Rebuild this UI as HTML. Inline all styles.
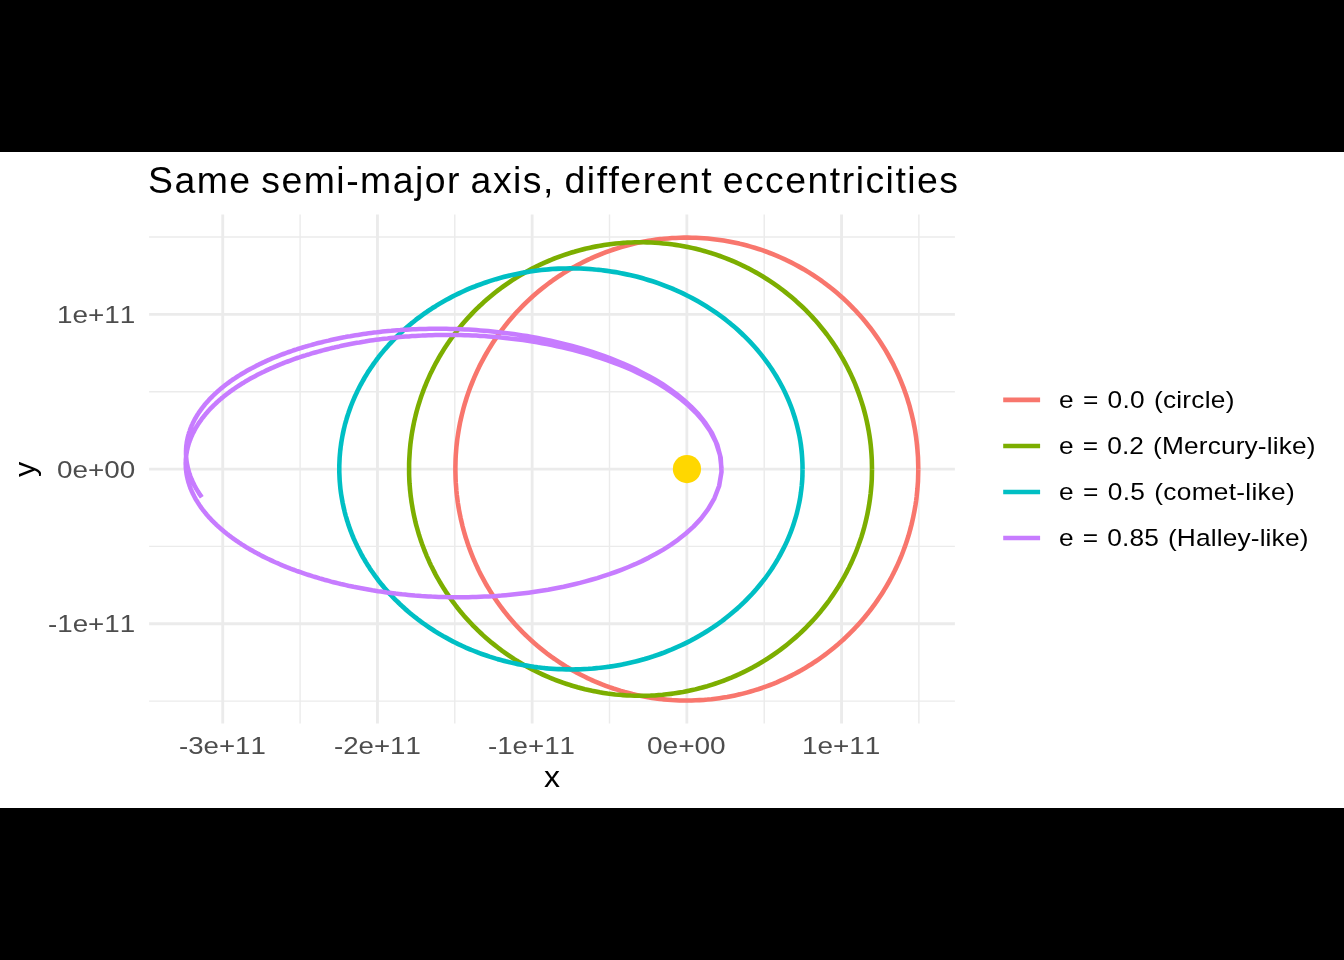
<!DOCTYPE html>
<html lang="en"><head><meta charset="utf-8"><title>Same semi-major axis, different eccentricities</title>
<style>
html,body{margin:0;padding:0;background:#000;}
body{width:1344px;height:960px;position:relative;overflow:hidden;font-family:"Liberation Sans",sans-serif;}
.t{will-change:transform;position:absolute;white-space:nowrap;line-height:1;font-family:"Liberation Sans",sans-serif;font-kerning:none;}
</style></head><body>
<svg width="1344" height="960" viewBox="0 0 1344 960" style="position:absolute;left:0;top:0">
<rect x="0" y="152" width="1344" height="656" fill="#ffffff"/>
<g stroke="#EBEBEB" fill="none"><line x1="300.10" x2="300.10" y1="214.40" y2="723.60" stroke-width="1.42"/><line x1="454.80" x2="454.80" y1="214.40" y2="723.60" stroke-width="1.42"/><line x1="609.50" x2="609.50" y1="214.40" y2="723.60" stroke-width="1.42"/><line x1="764.20" x2="764.20" y1="214.40" y2="723.60" stroke-width="1.42"/><line x1="918.90" x2="918.90" y1="214.40" y2="723.60" stroke-width="1.42"/><line x1="149.10" x2="954.90" y1="701.10" y2="701.10" stroke-width="1.42"/><line x1="149.10" x2="954.90" y1="546.40" y2="546.40" stroke-width="1.42"/><line x1="149.10" x2="954.90" y1="391.70" y2="391.70" stroke-width="1.42"/><line x1="149.10" x2="954.90" y1="237.00" y2="237.00" stroke-width="1.42"/><line x1="222.75" x2="222.75" y1="214.40" y2="723.60" stroke-width="2.84"/><line x1="377.45" x2="377.45" y1="214.40" y2="723.60" stroke-width="2.84"/><line x1="532.15" x2="532.15" y1="214.40" y2="723.60" stroke-width="2.84"/><line x1="686.85" x2="686.85" y1="214.40" y2="723.60" stroke-width="2.84"/><line x1="841.55" x2="841.55" y1="214.40" y2="723.60" stroke-width="2.84"/><line x1="149.10" x2="954.90" y1="623.75" y2="623.75" stroke-width="2.84"/><line x1="149.10" x2="954.90" y1="469.05" y2="469.05" stroke-width="2.84"/><line x1="149.10" x2="954.90" y1="314.35" y2="314.35" stroke-width="2.84"/></g>
<g fill="none" stroke-width="4.55" stroke-linejoin="round" stroke-linecap="butt">
<path stroke="#F8766D" d="M918.3,469.1 918.2,465.1 918.1,461.1 918.0,457.1 917.7,453.1 917.4,449.2 917.0,445.2 916.6,441.2 916.1,437.3 915.5,433.3 914.9,429.4 914.1,425.5 913.4,421.6 912.5,417.7 911.6,413.8 910.6,410.0 909.6,406.1 908.4,402.3 907.3,398.5 906.0,394.7 904.7,390.9 903.3,387.2 901.9,383.5 900.4,379.8 898.8,376.1 897.2,372.5 895.5,368.9 893.7,365.3 891.9,361.8 890.0,358.3 888.1,354.8 886.1,351.3 884.0,347.9 881.9,344.5 879.8,341.2 877.5,337.9 875.2,334.6 872.9,331.4 870.5,328.2 868.1,325.1 865.6,322.0 863.0,318.9 860.4,315.9 857.7,313.0 855.0,310.0 852.2,307.2 849.4,304.3 846.6,301.6 843.7,298.8 840.7,296.2 837.7,293.5 834.7,291.0 831.6,288.5 828.5,286.0 825.3,283.6 822.1,281.2 818.8,278.9 815.5,276.7 812.2,274.5 808.8,272.4 805.4,270.3 802.0,268.3 798.5,266.3 795.0,264.4 791.5,262.6 787.9,260.8 784.3,259.1 780.7,257.5 777.0,255.9 773.3,254.4 769.6,252.9 765.9,251.5 762.1,250.2 758.4,248.9 754.6,247.7 750.7,246.6 746.9,245.5 743.1,244.5 739.2,243.6 735.3,242.7 731.4,241.9 727.5,241.2 723.5,240.5 719.6,239.9 715.7,239.4 711.7,238.9 707.7,238.5 703.8,238.2 699.8,238.0 695.8,237.8 691.8,237.7 687.8,237.6 683.9,237.6 679.9,237.7 675.9,237.9 671.9,238.1 667.9,238.4 664.0,238.7 660.0,239.2 656.1,239.7 652.1,240.2 648.2,240.9 644.3,241.5 640.4,242.3 636.5,243.1 632.6,244.0 628.7,245.0 624.9,246.0 621.0,247.1 617.2,248.3 613.4,249.5 609.7,250.8 605.9,252.2 602.2,253.6 598.5,255.1 594.8,256.7 591.2,258.3 587.6,260.0 584.0,261.7 580.5,263.5 576.9,265.4 573.4,267.3 570.0,269.3 566.6,271.3 563.2,273.4 559.8,275.6 556.5,277.8 553.2,280.0 550.0,282.4 546.8,284.8 543.7,287.2 540.6,289.7 537.5,292.2 534.5,294.8 531.5,297.5 528.6,300.2 525.7,302.9 522.9,305.7 520.1,308.6 517.3,311.5 514.6,314.4 512.0,317.4 509.4,320.4 506.9,323.5 504.4,326.6 502.0,329.8 499.6,333.0 497.3,336.2 495.0,339.5 492.8,342.8 490.7,346.2 488.6,349.6 486.6,353.0 484.6,356.5 482.7,360.0 480.9,363.5 479.1,367.0 477.4,370.6 475.7,374.3 474.1,377.9 472.6,381.6 471.1,385.3 469.7,389.0 468.3,392.8 467.0,396.5 465.8,400.3 464.7,404.1 463.6,408.0 462.6,411.8 461.6,415.7 460.7,419.6 459.9,423.5 459.2,427.4 458.5,431.3 457.9,435.2 457.3,439.2 456.8,443.1 456.4,447.1 456.1,451.1 455.8,455.0 455.6,459.0 455.5,463.0 455.4,467.0 455.4,471.0 455.5,475.0 455.6,478.9 455.8,482.9 456.1,486.9 456.4,490.9 456.8,494.8 457.3,498.8 457.8,502.7 458.5,506.7 459.1,510.6 459.9,514.5 460.7,518.4 461.6,522.3 462.5,526.1 463.6,530.0 464.6,533.8 465.8,537.6 467.0,541.4 468.3,545.2 469.6,549.0 471.0,552.7 472.5,556.4 474.0,560.1 475.6,563.7 477.3,567.3 479.0,570.9 480.8,574.5 482.6,578.0 484.5,581.5 486.5,585.0 488.5,588.4 490.6,591.8 492.8,595.2 495.0,598.5 497.2,601.8 499.5,605.0 501.9,608.2 504.3,611.4 506.8,614.5 509.3,617.6 511.9,620.6 514.5,623.6 517.2,626.5 520.0,629.4 522.8,632.3 525.6,635.1 528.5,637.8 531.4,640.5 534.4,643.2 537.4,645.8 540.5,648.3 543.6,650.8 546.7,653.3 549.9,655.6 553.1,658.0 556.4,660.2 559.7,662.5 563.1,664.6 566.4,666.7 569.9,668.8 573.3,670.8 576.8,672.7 580.3,674.5 583.9,676.3 587.5,678.1 591.1,679.8 594.7,681.4 598.4,682.9 602.1,684.4 605.8,685.8 609.5,687.2 613.3,688.5 617.1,689.7 620.9,690.9 624.7,692.0 628.6,693.0 632.4,694.0 636.3,694.9 640.2,695.8 644.1,696.5 648.0,697.2 652.0,697.9 655.9,698.4 659.9,698.9 663.8,699.4 667.8,699.7 671.8,700.0 675.8,700.2 679.7,700.4 683.7,700.5 687.7,700.5 691.7,700.4 695.7,700.3 699.6,700.1 703.6,699.9 707.6,699.6 711.6,699.2 715.5,698.7 719.5,698.2 723.4,697.6 727.3,696.9 731.2,696.2 735.2,695.4 739.0,694.5 742.9,693.6 746.8,692.6 750.6,691.5 754.4,690.4 758.2,689.2 762.0,687.9 765.8,686.6 769.5,685.2 773.2,683.8 776.9,682.3 780.5,680.7 784.2,679.0 787.8,677.3 791.3,675.6 794.9,673.7 798.4,671.8 801.9,669.9 805.3,667.9 808.7,665.8 812.1,663.7 815.4,661.5 818.7,659.3 822.0,657.0 825.2,654.6 828.3,652.2 831.5,649.7 834.6,647.2 837.6,644.6 840.6,642.0 843.6,639.4 846.5,636.6 849.3,633.9 852.1,631.0 854.9,628.2 857.6,625.3 860.3,622.3 862.9,619.3 865.5,616.2 868.0,613.1 870.4,610.0 872.8,606.8 875.2,603.6 877.4,600.3 879.7,597.0 881.9,593.7 884.0,590.3 886.0,586.9 888.0,583.5 890.0,580.0 891.8,576.5 893.7,572.9 895.4,569.3 897.1,565.7 898.8,562.1 900.3,558.4 901.8,554.8 903.3,551.0 904.7,547.3 906.0,543.5 907.2,539.8 908.4,536.0 909.5,532.1 910.6,528.3 911.6,524.4 912.5,520.6 913.3,516.7 914.1,512.8 914.8,508.8 915.5,504.9 916.1,501.0 916.6,497.0 917.0,493.1 917.4,489.1 917.7,485.1 918.0,481.1 918.1,477.2 918.2,473.2 918.3,469.2 918.2,465.2 918.1,461.2 918.0,457.2 917.7,453.3 917.4,449.3 917.1,445.3 916.6,441.4 916.1,437.4 915.5,433.5 914.9,429.5 914.2,425.6 913.4,421.7 912.5,417.8 911.6,414.0 910.6,410.1 909.6,406.2 908.5,402.4 907.3,398.6 906.1,394.8 904.7,391.1 903.4,387.3 901.9,383.6 900.4,379.9 898.9,376.3 897.2,372.6 895.5,369.0 893.8,365.4 892.0,361.9 890.1,358.4 888.2,354.9 886.2,351.4 884.1,348.0 882.0,344.7 879.8,341.3 877.6,338.0 875.3,334.7 873.0,331.5 870.6,328.3 868.1,325.2 865.6,322.1 863.1,319.0 860.5,316.0 857.8,313.1 855.1,310.1 852.3,307.3 849.5,304.4 846.7,301.7 843.8,298.9 840.8,296.3 837.8,293.6 834.8,291.1 831.7,288.5 828.6,286.1 825.4,283.7 822.2,281.3 818.9,279.0 815.6,276.8 812.3,274.6 809.0,272.4 805.6,270.4 802.1,268.4 798.6,266.4 795.1,264.5 791.6,262.7 788.0,260.9 784.4,259.2 780.8,257.5 777.2,256.0 773.5,254.4 769.8,253.0 766.0,251.6 762.3,250.2 758.5,249.0 754.7,247.8 750.9,246.6 747.0,245.6 743.2,244.6 739.3,243.6 735.4,242.8 731.5,242.0 727.6,241.2 723.7,240.6 719.7,240.0 715.8,239.4 711.8,239.0 707.9,238.6 703.9,238.2 699.9,238.0 696.0,237.8 692.0,237.7 688.0,237.6 684.0,237.6 680.0,237.7 676.0,237.9 672.1,238.1 668.1,238.4 664.1,238.7 660.2,239.1 656.2,239.6 652.3,240.2 648.3,240.8 644.4,241.5 640.5,242.3 636.6,243.1 632.7,244.0 628.9,245.0 625.0,246.0 621.2,247.1 617.4,248.3 613.6,249.5 609.8,250.8 606.1,252.2 602.3,253.6 598.7,255.1 595.0,256.6 591.3,258.2 587.7,259.9 584.1,261.6 580.6,263.4 577.1,265.3 573.6,267.2 570.1,269.2 566.7,271.2 563.3,273.3 560.0,275.5 556.6,277.7 553.4,280.0 550.1,282.3 546.9,284.7 543.8,287.1 540.7,289.6 537.6,292.1 534.6,294.7 531.6,297.4 528.7,300.1 525.8,302.8 523.0,305.6 520.2,308.5 517.4,311.3 514.7,314.3 512.1,317.3 509.5,320.3 507.0,323.4 504.5,326.5 502.1,329.7 499.7,332.9 497.4,336.1 495.1,339.4 492.9,342.7 490.8,346.0 488.7,349.4 486.7,352.9 484.7,356.3 482.8,359.8 480.9,363.4 479.1,366.9 477.4,370.5 475.7,374.1 474.1,377.8 472.6,381.4 471.1,385.1 469.7,388.9 468.4,392.6 467.1,396.4 465.9,400.2 464.7,404.0 463.6,407.8 462.6,411.7 461.7,415.5 460.8,419.4 459.9,423.3 459.2,427.2 458.5,431.2 457.9,435.1 457.3,439.0 456.9,443.0 456.4,447.0 456.1,450.9 455.8,454.9 455.6,458.9 455.5,462.9 455.4,466.8 455.4,470.8 455.5,474.8 455.6,478.8 455.8,482.8 456.1,486.7 456.4,490.7 456.8,494.7 457.3,498.6 457.8,502.6 458.4,506.5 459.1,510.4 459.9,514.4 460.7,518.3 461.6,522.1 462.5,526.0 463.5,529.9 464.6,533.7 465.7,537.5 467.0,541.3 468.2,545.1 469.6,548.8 471.0,552.6 472.4,556.3 474.0,559.9 475.6,563.6 477.2,567.2 478.9,570.8 480.7,574.4 482.6,577.9 484.5,581.4 486.4,584.9 488.5,588.3 490.5,591.7 492.7,595.0 494.9,598.4 497.1,601.7 499.4,604.9 501.8,608.1 504.2,611.3 506.7,614.4 509.2,617.5 511.8,620.5 514.4,623.5 517.1,626.4 519.9,629.3 522.6,632.2 525.5,635.0 528.4,637.7 531.3,640.4 534.3,643.1 537.3,645.7 540.3,648.2 543.4,650.7 546.6,653.2 549.8,655.6 553.0,657.9 556.3,660.2 559.6,662.4 562.9,664.5 566.3,666.6 569.7,668.7 573.2,670.7 576.7,672.6 580.2,674.5 583.8,676.3 587.3,678.0 590.9,679.7 594.6,681.3 598.3,682.9 601.9,684.4 605.7,685.8 609.4,687.2 613.2,688.5 617.0,689.7 620.8,690.9 624.6,692.0 628.4,693.0 632.3,694.0 636.2,694.9 640.1,695.7 644.0,696.5 647.9,697.2 651.8,697.8 655.8,698.4 659.7,698.9 663.7,699.3 667.7,699.7 671.6,700.0 675.6,700.2 679.6,700.4 683.6,700.5 687.6,700.5 691.5,700.5 695.5,700.3 699.5,700.2 703.5,699.9 707.5,699.6 711.4,699.2 715.4,698.7 719.3,698.2 723.3,697.6 727.2,697.0 731.1,696.2 735.0,695.4 738.9,694.6 742.8,693.6 746.6,692.6 750.5,691.6 754.3,690.4 758.1,689.3 761.9,688.0 765.6,686.7 769.4,685.3 773.1,683.8 776.8,682.3 780.4,680.7 784.0,679.1 787.6,677.4 791.2,675.6 794.8,673.8 798.3,671.9 801.7,670.0 805.2,668.0 808.6,665.9 812.0,663.8 815.3,661.6 818.6,659.3 821.8,657.0 825.1,654.7 828.2,652.3 831.4,649.8 834.5,647.3 837.5,644.7 840.5,642.1 843.5,639.5 846.4,636.7 849.2,634.0 852.0,631.1 854.8,628.3 857.5,625.4 860.2,622.4 862.8,619.4 865.4,616.3 867.9,613.2 870.3,610.1 872.7,606.9 875.1,603.7 877.4,600.4 879.6,597.1 881.8,593.8 883.9,590.4 886.0,587.0 888.0,583.6 889.9,580.1 891.8,576.6 893.6,573.0 895.4,569.5 897.1,565.9 898.7,562.2 900.3,558.6 901.8,554.9 903.2,551.2 904.6,547.4 905.9,543.7 907.2,539.9 908.4,536.1 909.5,532.3 910.5,528.4 911.5,524.6 912.4,520.7 913.3,516.8 914.1,512.9 914.8,509.0 915.5,505.0 916.1,501.1 916.6,497.2 917.0,493.2 917.4,489.2 917.7,485.3 918.0,481.3 918.1,477.3 918.2,473.3 918.3,469.3"/>
<path stroke="#7CAE00" d="M872.0,469.1 871.9,464.2 871.8,459.3 871.5,454.4 871.1,449.6 870.7,444.7 870.1,439.9 869.4,435.1 868.6,430.3 867.7,425.5 866.7,420.7 865.6,416.0 864.4,411.3 863.1,406.6 861.6,402.0 860.1,397.4 858.5,392.9 856.8,388.4 855.1,383.9 853.2,379.5 851.2,375.1 849.1,370.8 847.0,366.5 844.8,362.3 842.4,358.2 840.0,354.1 837.6,350.0 835.0,346.1 832.4,342.1 829.7,338.3 826.9,334.5 824.0,330.8 821.1,327.2 818.1,323.6 815.1,320.1 811.9,316.7 808.8,313.3 805.5,310.0 802.3,306.8 798.9,303.7 795.5,300.6 792.1,297.6 788.6,294.7 785.1,291.9 781.5,289.2 777.9,286.5 774.2,283.9 770.5,281.4 766.8,279.0 763.0,276.6 759.2,274.4 755.4,272.2 751.5,270.1 747.7,268.0 743.8,266.1 739.8,264.2 735.9,262.4 731.9,260.7 727.9,259.1 723.9,257.5 719.9,256.0 715.9,254.6 711.9,253.3 707.8,252.1 703.8,250.9 699.7,249.8 695.7,248.8 691.6,247.9 687.5,247.0 683.5,246.2 679.4,245.5 675.3,244.8 671.3,244.3 667.2,243.8 663.2,243.4 659.1,243.0 655.1,242.7 651.1,242.5 647.1,242.4 643.1,242.3 639.1,242.3 635.1,242.3 631.2,242.4 627.2,242.6 623.3,242.9 619.4,243.2 615.5,243.6 611.7,244.0 607.8,244.5 604.0,245.1 600.2,245.7 596.4,246.4 592.6,247.2 588.9,248.0 585.2,248.8 581.5,249.8 577.9,250.7 574.3,251.8 570.7,252.8 567.1,254.0 563.6,255.2 560.1,256.4 556.6,257.7 553.1,259.0 549.7,260.4 546.3,261.9 543.0,263.4 539.7,264.9 536.4,266.5 533.1,268.1 529.9,269.8 526.8,271.5 523.6,273.3 520.5,275.1 517.4,277.0 514.4,278.9 511.4,280.8 508.5,282.8 505.6,284.8 502.7,286.9 499.8,289.0 497.0,291.1 494.3,293.3 491.6,295.5 488.9,297.7 486.2,300.0 483.6,302.3 481.1,304.7 478.6,307.0 476.1,309.5 473.6,311.9 471.3,314.4 468.9,316.9 466.6,319.4 464.3,322.0 462.1,324.6 459.9,327.2 457.8,329.8 455.7,332.5 453.7,335.2 451.7,337.9 449.7,340.7 447.8,343.5 445.9,346.3 444.1,349.1 442.3,351.9 440.6,354.8 438.9,357.7 437.3,360.6 435.7,363.5 434.1,366.4 432.6,369.4 431.1,372.4 429.7,375.4 428.4,378.4 427.0,381.4 425.8,384.5 424.5,387.5 423.4,390.6 422.2,393.7 421.1,396.8 420.1,399.9 419.1,403.0 418.1,406.2 417.2,409.3 416.4,412.5 415.6,415.7 414.8,418.8 414.1,422.0 413.4,425.2 412.8,428.4 412.2,431.7 411.7,434.9 411.2,438.1 410.8,441.3 410.4,444.6 410.1,447.8 409.8,451.0 409.6,454.3 409.4,457.5 409.2,460.8 409.1,464.0 409.1,467.3 409.1,470.5 409.1,473.8 409.2,477.0 409.4,480.3 409.5,483.5 409.8,486.8 410.1,490.0 410.4,493.3 410.8,496.5 411.2,499.7 411.7,503.0 412.2,506.2 412.8,509.4 413.4,512.6 414.0,515.8 414.8,519.0 415.5,522.2 416.3,525.3 417.2,528.5 418.1,531.6 419.0,534.8 420.0,537.9 421.0,541.0 422.1,544.1 423.3,547.2 424.4,550.3 425.7,553.4 426.9,556.4 428.3,559.4 429.6,562.5 431.0,565.5 432.5,568.4 434.0,571.4 435.5,574.4 437.1,577.3 438.8,580.2 440.5,583.1 442.2,585.9 444.0,588.8 445.8,591.6 447.7,594.4 449.6,597.2 451.5,599.9 453.5,602.7 455.6,605.4 457.6,608.0 459.8,610.7 461.9,613.3 464.2,615.9 466.4,618.5 468.7,621.0 471.1,623.5 473.5,626.0 475.9,628.4 478.4,630.9 480.9,633.2 483.4,635.6 486.0,637.9 488.7,640.2 491.3,642.4 494.1,644.6 496.8,646.8 499.6,648.9 502.5,651.0 505.3,653.1 508.2,655.1 511.2,657.1 514.2,659.1 517.2,661.0 520.3,662.8 523.4,664.6 526.5,666.4 529.7,668.1 532.9,669.8 536.2,671.4 539.4,673.0 542.7,674.6 546.1,676.1 549.5,677.5 552.9,678.9 556.3,680.3 559.8,681.6 563.3,682.8 566.8,684.0 570.4,685.2 574.0,686.2 577.6,687.3 581.3,688.3 584.9,689.2 588.6,690.0 592.4,690.9 596.1,691.6 599.9,692.3 603.7,692.9 607.5,693.5 611.4,694.0 615.2,694.5 619.1,694.8 623.0,695.2 627.0,695.4 630.9,695.6 634.8,695.7 638.8,695.8 642.8,695.8 646.8,695.7 650.8,695.6 654.8,695.4 658.9,695.1 662.9,694.8 666.9,694.3 671.0,693.8 675.1,693.3 679.1,692.6 683.2,691.9 687.3,691.1 691.3,690.3 695.4,689.4 699.4,688.3 703.5,687.3 707.6,686.1 711.6,684.9 715.6,683.5 719.7,682.2 723.7,680.7 727.7,679.1 731.7,677.5 735.6,675.8 739.6,674.0 743.5,672.1 747.4,670.2 751.3,668.2 755.1,666.1 759.0,663.9 762.8,661.6 766.5,659.3 770.3,656.8 774.0,654.3 777.6,651.8 781.2,649.1 784.8,646.4 788.4,643.5 791.9,640.6 795.3,637.7 798.7,634.6 802.0,631.5 805.3,628.3 808.6,625.0 811.7,621.6 814.9,618.2 817.9,614.7 820.9,611.2 823.8,607.5 826.7,603.8 829.5,600.0 832.2,596.2 834.8,592.3 837.4,588.3 839.9,584.3 842.3,580.2 844.6,576.0 846.8,571.8 849.0,567.6 851.1,563.3 853.0,558.9 854.9,554.5 856.7,550.0 858.4,545.5 860.0,541.0 861.6,536.4 863.0,531.8 864.3,527.1 865.5,522.4 866.6,517.7 867.6,512.9 868.5,508.1 869.3,503.3 870.0,498.5 870.6,493.7 871.1,488.8 871.5,484.0 871.8,479.1 871.9,474.2 872.0,469.4 871.9,464.5 871.8,459.6 871.5,454.7 871.2,449.9 870.7,445.0 870.1,440.2 869.4,435.3 868.6,430.5 867.7,425.8 866.7,421.0 865.6,416.3 864.4,411.6 863.1,406.9 861.7,402.3 860.2,397.7 858.7,393.1 857.0,388.6 855.2,384.2 853.3,379.7 851.3,375.4 849.3,371.1 847.1,366.8 844.9,362.6 842.6,358.4 840.2,354.3 837.7,350.3 835.2,346.3 832.5,342.4 829.8,338.5 827.1,334.7 824.2,331.0 821.3,327.4 818.3,323.8 815.3,320.3 812.2,316.9 809.0,313.5 805.8,310.2 802.5,307.0 799.1,303.9 795.8,300.8 792.3,297.8 788.8,294.9 785.3,292.1 781.7,289.3 778.1,286.7 774.5,284.1 770.8,281.6 767.0,279.1 763.3,276.8 759.5,274.5 755.7,272.3 751.8,270.2 747.9,268.1 744.0,266.2 740.1,264.3 736.2,262.5 732.2,260.8 728.2,259.1 724.2,257.6 720.2,256.1 716.2,254.7 712.2,253.4 708.1,252.1 704.1,251.0 700.0,249.9 696.0,248.8 691.9,247.9 687.8,247.0 683.8,246.2 679.7,245.5 675.6,244.9 671.6,244.3 667.5,243.8 663.5,243.4 659.4,243.0 655.4,242.7 651.4,242.5 647.4,242.3 643.4,242.3 639.4,242.2 635.4,242.3 631.5,242.4 627.5,242.6 623.6,242.8 619.7,243.2 615.8,243.5 611.9,244.0 608.1,244.5 604.3,245.0 600.5,245.7 596.7,246.3 592.9,247.1 589.2,247.9 585.5,248.7 581.8,249.7 578.2,250.6 574.5,251.7 570.9,252.7 567.4,253.9 563.8,255.1 560.3,256.3 556.8,257.6 553.4,258.9 550.0,260.3 546.6,261.8 543.2,263.2 539.9,264.8 536.6,266.4 533.4,268.0 530.2,269.7 527.0,271.4 523.9,273.2 520.7,275.0 517.7,276.8 514.6,278.7 511.6,280.6 508.7,282.6 505.8,284.6 502.9,286.7 500.0,288.8 497.2,290.9 494.5,293.1 491.8,295.3 489.1,297.5 486.4,299.8 483.8,302.1 481.3,304.5 478.7,306.8 476.3,309.2 473.8,311.7 471.4,314.2 469.1,316.7 466.8,319.2 464.5,321.7 462.3,324.3 460.1,327.0 458.0,329.6 455.9,332.3 453.8,335.0 451.8,337.7 449.9,340.4 447.9,343.2 446.1,346.0 444.2,348.8 442.5,351.7 440.7,354.5 439.0,357.4 437.4,360.3 435.8,363.2 434.2,366.2 432.7,369.1 431.3,372.1 429.8,375.1 428.5,378.1 427.1,381.2 425.9,384.2 424.6,387.3 423.4,390.3 422.3,393.4 421.2,396.5 420.2,399.6 419.2,402.8 418.2,405.9 417.3,409.1 416.4,412.2 415.6,415.4 414.9,418.6 414.1,421.8 413.5,425.0 412.9,428.2 412.3,431.4 411.7,434.6 411.3,437.8 410.8,441.0 410.4,444.3 410.1,447.5 409.8,450.8 409.6,454.0 409.4,457.2 409.2,460.5 409.1,463.7 409.1,467.0 409.1,470.3 409.1,473.5 409.2,476.8 409.3,480.0 409.5,483.3 409.8,486.5 410.0,489.7 410.4,493.0 410.7,496.2 411.2,499.4 411.6,502.7 412.2,505.9 412.7,509.1 413.3,512.3 414.0,515.5 414.7,518.7 415.4,521.9 416.2,525.1 417.1,528.2 418.0,531.4 418.9,534.5 419.9,537.6 421.0,540.8 422.0,543.9 423.2,547.0 424.3,550.0 425.6,553.1 426.8,556.1 428.2,559.2 429.5,562.2 430.9,565.2 432.4,568.2 433.9,571.1 435.4,574.1 437.0,577.0 438.6,579.9 440.3,582.8 442.1,585.7 443.8,588.5 445.6,591.4 447.5,594.2 449.4,596.9 451.4,599.7 453.4,602.4 455.4,605.1 457.5,607.8 459.6,610.5 461.8,613.1 464.0,615.7 466.3,618.2 468.6,620.8 470.9,623.3 473.3,625.8 475.7,628.2 478.2,630.6 480.7,633.0 483.2,635.4 485.8,637.7 488.5,640.0 491.1,642.2 493.9,644.4 496.6,646.6 499.4,648.8 502.2,650.9 505.1,652.9 508.0,654.9 511.0,656.9 514.0,658.9 517.0,660.8 520.1,662.6 523.2,664.5 526.3,666.2 529.5,668.0 532.7,669.7 535.9,671.3 539.2,672.9 542.5,674.4 545.8,675.9 549.2,677.4 552.6,678.8 556.1,680.1 559.5,681.4 563.0,682.7 566.6,683.9 570.1,685.0 573.7,686.1 577.4,687.2 581.0,688.2 584.7,689.1 588.4,690.0 592.1,690.8 595.9,691.5 599.6,692.2 603.4,692.9 607.3,693.4 611.1,693.9 615.0,694.4 618.8,694.8 622.7,695.1 626.7,695.4 630.6,695.6 634.6,695.7 638.5,695.8 642.5,695.8 646.5,695.7 650.5,695.6 654.5,695.4 658.6,695.1 662.6,694.8 666.7,694.3 670.7,693.9 674.8,693.3 678.8,692.7 682.9,692.0 687.0,691.2 691.0,690.3 695.1,689.4 699.2,688.4 703.2,687.3 707.3,686.2 711.3,684.9 715.4,683.6 719.4,682.2 723.4,680.8 727.4,679.2 731.4,677.6 735.3,675.9 739.3,674.1 743.2,672.2 747.1,670.3 751.0,668.3 754.9,666.2 758.7,664.0 762.5,661.7 766.3,659.4 770.0,657.0 773.7,654.5 777.4,651.9 781.0,649.3 784.6,646.5 788.1,643.7 791.6,640.8 795.1,637.8 798.5,634.8 801.8,631.7 805.1,628.5 808.3,625.2 811.5,621.9 814.6,618.4 817.7,614.9 820.7,611.4 823.6,607.7 826.5,604.0 829.3,600.3 832.0,596.4 834.6,592.5 837.2,588.6 839.7,584.5 842.1,580.4 844.5,576.3 846.7,572.1 848.9,567.8 850.9,563.5 852.9,559.2 854.8,554.8 856.6,550.3 858.3,545.8 859.9,541.2 861.5,536.7 862.9,532.0 864.2,527.4 865.4,522.7 866.5,518.0 867.6,513.2 868.5,508.4 869.3,503.6 870.0,498.8 870.6,494.0 871.1,489.1 871.5,484.3 871.8,479.4 871.9,474.5 872.0,469.7"/>
<path stroke="#00BFC4" d="M802.6,469.1 802.4,462.1 802.0,455.3 801.3,448.4 800.4,441.6 799.2,434.9 797.7,428.2 796.0,421.6 794.0,415.2 791.9,408.8 789.5,402.6 786.9,396.5 784.1,390.5 781.1,384.7 777.9,379.1 774.6,373.6 771.2,368.2 767.6,363.1 763.9,358.1 760.0,353.2 756.1,348.5 752.1,344.0 747.9,339.7 743.7,335.5 739.5,331.5 735.2,327.6 730.8,323.9 726.3,320.3 721.9,316.9 717.4,313.7 712.9,310.6 708.3,307.6 703.7,304.7 699.2,302.0 694.6,299.5 690.0,297.0 685.4,294.7 680.8,292.5 676.2,290.4 671.6,288.4 667.0,286.6 662.5,284.8 657.9,283.2 653.4,281.6 648.8,280.2 644.4,278.8 639.9,277.6 635.4,276.4 631.0,275.3 626.6,274.4 622.2,273.5 617.8,272.6 613.5,271.9 609.2,271.2 605.0,270.7 600.7,270.1 596.5,269.7 592.4,269.3 588.2,269.0 584.1,268.8 580.0,268.6 576.0,268.5 572.0,268.5 568.0,268.5 564.1,268.6 560.2,268.7 556.3,268.9 552.5,269.1 548.7,269.4 544.9,269.7 541.2,270.1 537.5,270.6 533.8,271.1 530.2,271.6 526.6,272.2 523.1,272.8 519.6,273.5 516.1,274.2 512.6,274.9 509.2,275.7 505.9,276.5 502.5,277.4 499.2,278.3 496.0,279.2 492.8,280.2 489.6,281.2 486.4,282.3 483.3,283.4 480.2,284.5 477.2,285.6 474.2,286.8 471.2,288.0 468.2,289.2 465.3,290.5 462.5,291.8 459.6,293.1 456.8,294.5 454.1,295.8 451.4,297.2 448.7,298.7 446.0,300.1 443.4,301.6 440.8,303.1 438.2,304.6 435.7,306.2 433.2,307.7 430.8,309.3 428.4,310.9 426.0,312.6 423.6,314.2 421.3,315.9 419.0,317.6 416.8,319.3 414.6,321.0 412.4,322.8 410.3,324.5 408.1,326.3 406.1,328.1 404.0,329.9 402.0,331.8 400.0,333.6 398.1,335.5 396.2,337.3 394.3,339.2 392.4,341.2 390.6,343.1 388.8,345.0 387.1,347.0 385.4,348.9 383.7,350.9 382.0,352.9 380.4,354.9 378.8,356.9 377.3,358.9 375.7,361.0 374.3,363.0 372.8,365.1 371.4,367.1 370.0,369.2 368.6,371.3 367.3,373.4 366.0,375.5 364.7,377.6 363.5,379.8 362.3,381.9 361.1,384.1 359.9,386.2 358.8,388.4 357.7,390.5 356.7,392.7 355.7,394.9 354.7,397.1 353.7,399.3 352.8,401.5 351.9,403.7 351.0,405.9 350.2,408.1 349.4,410.4 348.6,412.6 347.9,414.8 347.2,417.1 346.5,419.3 345.9,421.6 345.2,423.8 344.6,426.1 344.1,428.3 343.6,430.6 343.1,432.9 342.6,435.2 342.2,437.4 341.8,439.7 341.4,442.0 341.1,444.3 340.7,446.6 340.5,448.9 340.2,451.1 340.0,453.4 339.8,455.7 339.6,458.0 339.5,460.3 339.4,462.6 339.3,464.9 339.3,467.2 339.3,469.5 339.3,471.8 339.4,474.1 339.5,476.4 339.6,478.7 339.7,481.0 339.9,483.3 340.1,485.6 340.3,487.9 340.6,490.2 340.9,492.4 341.2,494.7 341.6,497.0 342.0,499.3 342.4,501.6 342.8,503.8 343.3,506.1 343.8,508.4 344.4,510.7 344.9,512.9 345.5,515.2 346.2,517.4 346.8,519.7 347.5,521.9 348.2,524.2 349.0,526.4 349.8,528.6 350.6,530.9 351.5,533.1 352.3,535.3 353.2,537.5 354.2,539.7 355.2,541.9 356.2,544.1 357.2,546.3 358.3,548.4 359.4,550.6 360.5,552.7 361.6,554.9 362.8,557.0 364.1,559.2 365.3,561.3 366.6,563.4 367.9,565.5 369.3,567.6 370.6,569.7 372.1,571.8 373.5,573.8 375.0,575.9 376.5,577.9 378.0,580.0 379.6,582.0 381.2,584.0 382.8,586.0 384.5,588.0 386.2,589.9 387.9,591.9 389.7,593.9 391.5,595.8 393.3,597.7 395.2,599.6 397.1,601.5 399.0,603.4 401.0,605.2 403.0,607.1 405.0,608.9 407.1,610.7 409.2,612.5 411.3,614.3 413.5,616.0 415.7,617.8 417.9,619.5 420.2,621.2 422.5,622.9 424.8,624.5 427.2,626.2 429.6,627.8 432.0,629.4 434.5,631.0 437.0,632.5 439.5,634.1 442.1,635.6 444.7,637.1 447.3,638.5 450.0,640.0 452.7,641.4 455.5,642.8 458.2,644.2 461.1,645.5 463.9,646.8 466.8,648.1 469.7,649.3 472.7,650.5 475.7,651.7 478.7,652.9 481.8,654.0 484.9,655.1 488.0,656.2 491.2,657.2 494.4,658.2 497.6,659.2 500.9,660.1 504.2,661.0 507.6,661.8 511.0,662.6 514.4,663.4 517.8,664.2 521.3,664.8 524.9,665.5 528.4,666.1 532.0,666.6 535.7,667.2 539.4,667.6 543.1,668.0 546.8,668.4 550.6,668.7 554.4,669.0 558.3,669.2 562.2,669.3 566.1,669.4 570.0,669.5 574.0,669.5 578.1,669.4 582.1,669.3 586.2,669.1 590.3,668.8 594.5,668.5 598.7,668.1 602.9,667.6 607.2,667.0 611.5,666.4 615.8,665.7 620.1,664.9 624.5,664.1 628.9,663.1 633.3,662.1 637.7,661.0 642.2,659.8 646.7,658.5 651.2,657.1 655.7,655.6 660.3,654.0 664.9,652.3 669.4,650.5 674.0,648.5 678.6,646.5 683.2,644.4 687.8,642.1 692.4,639.7 697.0,637.2 701.6,634.6 706.2,631.8 710.7,628.9 715.3,625.8 719.8,622.6 724.3,619.3 728.7,615.8 733.1,612.1 737.5,608.4 741.8,604.4 746.0,600.3 750.2,596.0 754.2,591.6 758.2,587.0 762.1,582.2 765.9,577.3 769.5,572.2 773.1,566.9 776.4,561.5 779.7,555.9 782.7,550.2 785.6,544.3 788.3,538.2 790.8,532.1 793.1,525.8 795.1,519.4 797.0,512.8 798.5,506.2 799.9,499.5 800.9,492.7 801.7,485.9 802.3,479.0 802.5,472.1 802.5,465.2 802.2,458.3 801.7,451.5 800.9,444.6 799.8,437.9 798.4,431.2 796.8,424.6 795.0,418.0 792.9,411.6 790.6,405.3 788.1,399.2 785.4,393.2 782.5,387.3 779.4,381.6 776.2,376.0 772.8,370.6 769.3,365.4 765.6,360.3 761.8,355.4 757.9,350.6 753.9,346.0 749.9,341.6 745.7,337.3 741.5,333.2 737.2,329.3 732.8,325.5 728.4,321.9 724.0,318.4 719.5,315.1 715.0,311.9 710.4,308.9 705.9,306.0 701.3,303.2 696.7,300.5 692.1,298.0 687.5,295.7 682.9,293.4 678.4,291.3 673.8,289.2 669.2,287.3 664.6,285.5 660.1,283.8 655.5,282.2 651.0,280.7 646.5,279.3 642.0,278.0 637.5,276.8 633.1,275.7 628.7,274.7 624.3,273.8 619.9,272.9 615.6,272.1 611.3,271.4 607.0,270.8 602.8,270.3 598.5,269.8 594.4,269.4 590.2,269.0 586.1,268.8 582.0,268.6 577.9,268.4 573.9,268.4 569.9,268.3 566.0,268.4 562.1,268.5 558.2,268.6 554.3,268.8 550.5,269.1 546.7,269.4 543.0,269.8 539.3,270.2 535.6,270.7 532.0,271.2 528.4,271.7 524.8,272.3 521.3,273.0 517.8,273.7 514.3,274.4 510.9,275.2 507.5,276.0 504.2,276.8 500.9,277.7 497.6,278.6 494.3,279.6 491.1,280.6 488.0,281.6 484.8,282.7 481.7,283.8 478.7,284.9 475.7,286.0 472.7,287.2 469.7,288.4 466.8,289.7 463.9,291.0 461.1,292.3 458.2,293.6 455.5,295.0 452.7,296.4 450.0,297.8 447.3,299.2 444.7,300.7 442.1,302.2 439.5,303.7 437.0,305.2 434.5,306.8 432.0,308.3 429.6,309.9 427.2,311.5 424.8,313.2 422.5,314.8 420.2,316.5 417.9,318.2 415.7,319.9 413.5,321.7 411.3,323.4 409.2,325.2 407.1,327.0 405.1,328.8 403.0,330.6 401.0,332.5 399.1,334.3 397.1,336.2 395.2,338.1 393.4,340.0 391.5,341.9 389.7,343.8 388.0,345.8 386.2,347.7 384.5,349.7 382.9,351.7 381.2,353.7 379.6,355.7 378.1,357.7 376.5,359.7 375.0,361.8 373.5,363.8 372.1,365.9 370.7,368.0 369.3,370.1 367.9,372.1 366.6,374.3 365.3,376.4 364.1,378.5 362.9,380.6 361.7,382.8 360.5,384.9 359.4,387.1 358.3,389.2 357.2,391.4 356.2,393.6 355.2,395.8 354.2,398.0 353.3,400.2 352.4,402.4 351.5,404.6 350.6,406.8 349.8,409.0 349.0,411.2 348.3,413.5 347.5,415.7 346.8,418.0 346.2,420.2 345.5,422.5 344.9,424.7 344.4,427.0 343.8,429.2 343.3,431.5 342.8,433.8 342.4,436.1 342.0,438.3 341.6,440.6 341.2,442.9 340.9,445.2 340.6,447.5 340.3,449.8 340.1,452.1 339.9,454.3 339.7,456.6 339.6,458.9 339.5,461.2 339.4,463.5 339.3,465.8 339.3,468.1 339.3,470.4 339.3,472.7 339.4,475.0 339.5,477.3 339.6,479.6 339.8,481.9 340.0,484.2 340.2,486.5 340.4,488.8 340.7,491.1 341.0,493.4 341.4,495.6 341.8,497.9 342.2,500.2 342.6,502.5 343.1,504.7 343.6,507.0 344.1,509.3 344.6,511.6 345.2,513.8 345.8,516.1 346.5,518.3 347.2,520.6 347.9,522.8 348.6,525.1 349.4,527.3 350.2,529.5 351.0,531.7 351.9,534.0 352.8,536.2 353.7,538.4 354.7,540.6 355.6,542.8 356.7,544.9 357.7,547.1 358.8,549.3 359.9,551.4 361.0,553.6 362.2,555.7 363.4,557.9 364.7,560.0 365.9,562.1 367.2,564.2 368.6,566.3 369.9,568.4 371.3,570.5 372.8,572.6 374.2,574.6 375.7,576.7 377.2,578.7 378.8,580.8 380.4,582.8 382.0,584.8 383.7,586.8 385.3,588.8 387.1,590.7 388.8,592.7 390.6,594.6 392.4,596.5 394.3,598.5 396.1,600.3 398.1,602.2 400.0,604.1 402.0,606.0 404.0,607.8 406.0,609.6 408.1,611.4 410.2,613.2 412.4,615.0 414.6,616.7 416.8,618.4 419.0,620.2 421.3,621.9 423.6,623.5 426.0,625.2 428.4,626.8 430.8,628.4 433.2,630.0 435.7,631.6 438.2,633.1 440.8,634.7 443.4,636.2 446.0,637.6 448.7,639.1 451.4,640.5 454.1,641.9 456.8,643.3 459.6,644.7 462.5,646.0 465.3,647.3 468.3,648.5 471.2,649.8 474.2,651.0 477.2,652.2 480.2,653.3 483.3,654.4 486.4,655.5 489.6,656.6 492.8,657.6 496.0,658.6 499.3,659.5 502.6,660.4 505.9,661.3 509.3,662.1 512.7,662.9 516.1,663.6 519.6,664.4 523.1,665.0 526.7,665.6 530.3,666.2 533.9,666.8 537.6,667.3 541.2,667.7 545.0,668.1 548.7,668.4 552.6,668.7 556.4,669.0 560.3,669.1 564.2,669.3 568.1,669.3 572.1,669.4 576.1,669.3 580.2,669.2 584.2,669.0 588.3,668.8 592.5,668.5 596.7,668.1 600.9,667.7 605.1,667.2 609.4,666.6 613.7,665.9 618.0,665.2 622.4,664.4 626.8,663.5 631.2,662.5 635.6,661.4 640.1,660.2 644.6,659.0 649.1,657.6 653.6,656.2 658.1,654.6 662.7,653.0 667.3,651.2 671.9,649.4 676.4,647.4 681.0,645.3 685.6,643.1 690.3,640.8 694.9,638.3 699.4,635.7 704.0,633.0 708.6,630.1 713.2,627.2 717.7,624.0 722.2,620.8 726.7,617.3 731.1,613.8 735.5,610.0 739.8,606.2 744.1,602.1 748.2,597.9 752.4,593.6 756.4,589.0 760.3,584.3 764.2,579.5 767.9,574.5 771.5,569.3 774.9,563.9 778.2,558.4 781.3,552.7 784.3,546.9 787.1,541.0 789.7,534.8 792.1,528.6 794.2,522.2 796.2,515.8 797.8,509.2 799.3,502.5 800.5,495.8 801.4,488.9 802.1,482.1 802.5,475.2"/>
<path stroke="#C77CFF" d="M721.6,469.1 720.0,455.1 715.9,442.2 710.1,430.9 703.2,421.1 696.0,412.8 688.5,405.5 681.0,399.2 673.6,393.6 666.3,388.6 659.1,384.1 652.1,380.1 645.2,376.4 638.5,373.1 631.9,370.0 625.4,367.2 619.1,364.7 612.9,362.3 606.8,360.1 600.9,358.0 595.0,356.2 589.3,354.4 583.7,352.8 578.2,351.2 572.7,349.8 567.4,348.5 562.2,347.3 557.0,346.2 551.9,345.1 546.9,344.1 542.0,343.2 537.2,342.3 532.4,341.5 527.7,340.8 523.1,340.1 518.5,339.5 514.0,338.9 509.6,338.4 505.2,337.9 500.9,337.5 496.7,337.1 492.5,336.7 488.3,336.4 484.2,336.1 480.2,335.9 476.2,335.6 472.3,335.5 468.4,335.3 464.5,335.2 460.7,335.1 457.0,335.0 453.3,334.9 449.6,334.9 446.0,334.9 442.4,335.0 438.9,335.0 435.4,335.1 432.0,335.2 428.5,335.3 425.2,335.4 421.8,335.6 418.5,335.7 415.3,335.9 412.0,336.1 408.8,336.4 405.7,336.6 402.6,336.8 399.5,337.1 396.4,337.4 393.4,337.7 390.4,338.0 387.5,338.4 384.5,338.7 381.6,339.1 378.8,339.4 375.9,339.8 373.1,340.2 370.4,340.6 367.6,341.0 364.9,341.5 362.2,341.9 359.5,342.4 356.9,342.8 354.3,343.3 351.7,343.8 349.2,344.3 346.7,344.8 344.2,345.3 341.7,345.8 339.2,346.4 336.8,346.9 334.4,347.5 332.1,348.0 329.7,348.6 327.4,349.2 325.1,349.8 322.8,350.4 320.6,351.0 318.3,351.6 316.1,352.2 314.0,352.8 311.8,353.4 309.7,354.1 307.6,354.7 305.5,355.4 303.4,356.0 301.4,356.7 299.3,357.4 297.3,358.0 295.4,358.7 293.4,359.4 291.5,360.1 289.6,360.8 287.7,361.5 285.8,362.2 283.9,362.9 282.1,363.7 280.3,364.4 278.5,365.1 276.7,365.9 275.0,366.6 273.3,367.4 271.5,368.1 269.8,368.9 268.2,369.6 266.5,370.4 264.9,371.2 263.3,372.0 261.7,372.7 260.1,373.5 258.5,374.3 257.0,375.1 255.5,375.9 254.0,376.7 252.5,377.5 251.0,378.3 249.6,379.1 248.1,379.9 246.7,380.8 245.3,381.6 244.0,382.4 242.6,383.2 241.3,384.1 239.9,384.9 238.6,385.8 237.3,386.6 236.1,387.4 234.8,388.3 233.6,389.2 232.3,390.0 231.1,390.9 230.0,391.7 228.8,392.6 227.6,393.5 226.5,394.3 225.4,395.2 224.3,396.1 223.2,397.0 222.1,397.8 221.1,398.7 220.0,399.6 219.0,400.5 218.0,401.4 217.0,402.3 216.0,403.2 215.1,404.1 214.1,405.0 213.2,405.9 212.3,406.8 211.4,407.7 210.5,408.6 209.7,409.5 208.8,410.4 208.0,411.3 207.2,412.3 206.4,413.2 205.6,414.1 204.9,415.0 204.1,415.9 203.4,416.9 202.6,417.8 201.9,418.7 201.3,419.6 200.6,420.6 199.9,421.5 199.3,422.4 198.6,423.4 198.0,424.3 197.4,425.3 196.9,426.2 196.3,427.1 195.7,428.1 195.2,429.0 194.7,430.0 194.2,430.9 193.7,431.9 193.2,432.8 192.7,433.8 192.3,434.7 191.9,435.7 191.4,436.6 191.0,437.6 190.6,438.5 190.3,439.5 189.9,440.4 189.6,441.4 189.2,442.4 188.9,443.3 188.6,444.3 188.3,445.2 188.1,446.2 187.8,447.2 187.6,448.1 187.4,449.1 187.1,450.1 186.9,451.0 186.8,452.0 186.6,452.9 186.4,453.9 186.3,454.9 186.2,455.8 186.1,456.8 186.0,457.8 185.9,458.7 185.8,459.7 185.8,460.7 185.8,461.7 185.7,462.6 185.7,463.6 185.7,464.6 185.8,465.5 185.8,466.5 185.8,467.5 185.9,468.4 186.0,469.4 186.1,470.4 186.2,471.3 186.3,472.3 186.5,473.3 186.6,474.3 186.8,475.2 187.0,476.2 187.2,477.2 187.4,478.1 187.6,479.1 187.9,480.1 188.1,481.0 188.4,482.0 188.7,483.0 189.0,483.9 189.3,484.9 189.6,485.9 190.0,486.8 190.3,487.8 190.7,488.8 191.1,489.7 191.5,490.7 191.9,491.7 192.4,492.6 192.8,493.6 193.3,494.5 193.8,495.5 194.3,496.5 194.8,497.4 195.3,498.4 195.8,499.3 196.4,500.3 197.0,501.2 197.6,502.2 198.2,503.1 198.8,504.1 199.4,505.0 200.1,506.0 200.7,506.9 201.4,507.9 202.1,508.8 202.8,509.8 203.5,510.7 204.3,511.7 205.0,512.6 205.8,513.5 206.6,514.5 207.4,515.4 208.2,516.3 209.0,517.3 209.9,518.2 210.8,519.1 211.6,520.1 212.5,521.0 213.5,521.9 214.4,522.8 215.3,523.7 216.3,524.7 217.3,525.6 218.3,526.5 219.3,527.4 220.3,528.3 221.4,529.2 222.4,530.1 223.5,531.0 224.6,531.9 225.7,532.8 226.8,533.7 228.0,534.6 229.1,535.5 230.3,536.4 231.5,537.3 232.7,538.2 234.0,539.1 235.2,539.9 236.5,540.8 237.8,541.7 239.1,542.6 240.4,543.4 241.7,544.3 243.1,545.2 244.4,546.0 245.8,546.9 247.2,547.7 248.7,548.6 250.1,549.4 251.6,550.3 253.0,551.1 254.5,551.9 256.1,552.8 257.6,553.6 259.2,554.4 260.7,555.3 262.3,556.1 263.9,556.9 265.6,557.7 267.2,558.5 268.9,559.3 270.6,560.1 272.3,560.9 274.0,561.7 275.8,562.5 277.5,563.2 279.3,564.0 281.1,564.8 283.0,565.6 284.8,566.3 286.7,567.1 288.6,567.8 290.5,568.6 292.4,569.3 294.4,570.0 296.4,570.8 298.4,571.5 300.4,572.2 302.4,572.9 304.5,573.6 306.6,574.3 308.7,575.0 310.8,575.7 313.0,576.4 315.2,577.0 317.4,577.7 319.6,578.4 321.9,579.0 324.1,579.7 326.4,580.3 328.8,580.9 331.1,581.6 333.5,582.2 335.9,582.8 338.3,583.4 340.8,584.0 343.3,584.5 345.8,585.1 348.3,585.7 350.9,586.2 353.5,586.8 356.1,587.3 358.7,587.8 361.4,588.3 364.1,588.8 366.8,589.3 369.6,589.8 372.4,590.3 375.2,590.7 378.0,591.2 380.9,591.6 383.8,592.0 386.8,592.5 389.7,592.8 392.8,593.2 395.8,593.6 398.9,593.9 402.0,594.3 405.1,594.6 408.3,594.9 411.5,595.2 414.8,595.5 418.1,595.7 421.4,596.0 424.8,596.2 428.2,596.4 431.6,596.6 435.1,596.7 438.6,596.9 442.2,597.0 445.8,597.1 449.4,597.2 453.1,597.2 456.9,597.2 460.7,597.2 464.5,597.2 468.4,597.2 472.3,597.1 476.3,597.0 480.3,596.8 484.4,596.6 488.6,596.4 492.8,596.2 497.0,595.9 501.4,595.6 505.7,595.2 510.2,594.8 514.7,594.3 519.2,593.8 523.9,593.3 528.6,592.7 533.3,592.0 538.2,591.3 543.1,590.5 548.1,589.7 553.2,588.7 558.4,587.7 563.6,586.7 569.0,585.5 574.4,584.2 580.0,582.9 585.6,581.4 591.4,579.8 597.3,578.1 603.2,576.2 609.4,574.2 615.6,572.0 622.0,569.6 628.5,567.0 635.1,564.2 641.9,561.1 648.9,557.6 656.0,553.8 663.3,549.6 670.7,544.9 678.2,539.6 685.8,533.5 693.5,526.6 701.0,518.6 708.1,509.2 714.4,498.3 719.2,485.7 721.5,471.9 720.7,457.8 717.2,444.6 711.9,433.0 705.4,422.9 698.4,414.1 691.1,406.6 683.8,399.9 676.6,394.0 669.4,388.8 662.3,384.0 655.3,379.8 648.5,375.9 641.8,372.4 635.3,369.1 628.9,366.1 622.6,363.3 616.5,360.8 610.5,358.4 604.5,356.2 598.7,354.1 593.0,352.2 587.4,350.4 581.9,348.8 576.5,347.2 571.2,345.7 566.0,344.4 560.9,343.1 555.8,341.9 550.8,340.7 545.9,339.7 541.1,338.7 536.4,337.8 531.7,336.9 527.1,336.1 522.5,335.4 518.0,334.7 513.6,334.0 509.2,333.4 504.9,332.9 500.7,332.4 496.5,331.9 492.3,331.5 488.2,331.1 484.2,330.7 480.2,330.4 476.3,330.1 472.4,329.8 468.5,329.6 464.7,329.4 461.0,329.2 457.3,329.1 453.6,329.0 450.0,328.9 446.4,328.8 442.9,328.8 439.4,328.7 435.9,328.7 432.5,328.8 429.1,328.8 425.8,328.9 422.5,329.0 419.2,329.1 415.9,329.2 412.7,329.3 409.6,329.5 406.4,329.7 403.3,329.8 400.3,330.1 397.2,330.3 394.2,330.5 391.3,330.8 388.3,331.0 385.4,331.3 382.6,331.6 379.7,331.9 376.9,332.3 374.1,332.6 371.3,332.9 368.6,333.3 365.9,333.7 363.2,334.1 360.6,334.5 358.0,334.9 355.4,335.3 352.8,335.7 350.3,336.2 347.8,336.6 345.3,337.1 342.8,337.5 340.4,338.0 338.0,338.5 335.6,339.0 333.2,339.5 330.9,340.0 328.6,340.6 326.3,341.1 324.0,341.6 321.8,342.2 319.5,342.7 317.3,343.3 315.2,343.9 313.0,344.5 310.9,345.1 308.8,345.6 306.7,346.3 304.6,346.9 302.6,347.5 300.6,348.1 298.6,348.7 296.6,349.4 294.6,350.0 292.7,350.7 290.8,351.3 288.9,352.0 287.0,352.7 285.2,353.3 283.3,354.0 281.5,354.7 279.7,355.4 278.0,356.1 276.2,356.8 274.5,357.5 272.8,358.2 271.1,358.9 269.4,359.7 267.7,360.4 266.1,361.1 264.5,361.9 262.9,362.6 261.3,363.4 259.7,364.1 258.2,364.9 256.7,365.6 255.2,366.4 253.7,367.2 252.2,368.0 250.7,368.7 249.3,369.5 247.9,370.3 246.5,371.1 245.1,371.9 243.7,372.7 242.4,373.5 241.1,374.3 239.8,375.1 238.5,375.9 237.2,376.7 235.9,377.6 234.7,378.4 233.4,379.2 232.2,380.0 231.0,380.9 229.9,381.7 228.7,382.6 227.6,383.4 226.4,384.3 225.3,385.1 224.2,386.0 223.2,386.8 222.1,387.7 221.0,388.5 220.0,389.4 219.0,390.3 218.0,391.1 217.0,392.0 216.1,392.9 215.1,393.8 214.2,394.6 213.3,395.5 212.4,396.4 211.5,397.3 210.6,398.2 209.7,399.1 208.9,400.0 208.1,400.9 207.3,401.8 206.5,402.7 205.7,403.6 204.9,404.5 204.2,405.4 203.5,406.3 202.8,407.2 202.1,408.1 201.4,409.0 200.7,410.0 200.1,410.9 199.4,411.8 198.8,412.7 198.2,413.7 197.6,414.6 197.0,415.5 196.4,416.4 195.9,417.4 195.4,418.3 194.8,419.2 194.3,420.2 193.9,421.1 193.4,422.0 192.9,423.0 192.5,423.9 192.0,424.9 191.6,425.8 191.2,426.8 190.8,427.7 190.5,428.7 190.1,429.6 189.8,430.6 189.5,431.5 189.1,432.5 188.9,433.4 188.6,434.4 188.3,435.3 188.1,436.3 187.8,437.2 187.6,438.2 187.4,439.2 187.2,440.1 187.0,441.1 186.8,442.1 186.7,443.0 186.6,444.0 186.4,444.9 186.3,445.9 186.2,446.9 186.2,447.8 186.1,448.8 186.1,449.8 186.0,450.7 186.0,451.7 186.0,452.7 186.0,453.7 186.0,454.6 186.1,455.6 186.1,456.6 186.2,457.5 186.3,458.5 186.4,459.5 186.5,460.5 186.6,461.4 186.8,462.4 186.9,463.4 187.1,464.3 187.3,465.3 187.5,466.3 187.7,467.3 187.9,468.2 188.2,469.2 188.5,470.2 188.7,471.2 189.0,472.1 189.3,473.1 189.6,474.1 190.0,475.1 190.3,476.0 190.7,477.0 191.1,478.0 191.5,479.0 191.9,479.9 192.3,480.9 192.7,481.9 193.2,482.8 193.7,483.8 194.1,484.8 194.6,485.8 195.2,486.7 195.7,487.7 196.2,488.7 196.8,489.6 197.4,490.6 198.0,491.6 198.6,492.5 199.2,493.5 199.8,494.5 200.5,495.4 201.2,496.4 201.8,497.3"/>
</g>
<circle cx="686.95" cy="469.05" r="14.1" fill="#FFD700"/>
<line x1="1003.2" x2="1040.1" y1="399.85" y2="399.85" stroke="#F8766D" stroke-width="4.55"/>
<line x1="1003.2" x2="1040.1" y1="445.93" y2="445.93" stroke="#7CAE00" stroke-width="4.55"/>
<line x1="1003.2" x2="1040.1" y1="492.01" y2="492.01" stroke="#00BFC4" stroke-width="4.55"/>
<line x1="1003.2" x2="1040.1" y1="538.09" y2="538.09" stroke="#C77CFF" stroke-width="4.55"/>
</svg>
<div class="t" style="left:148.36px;top:162.24px;font-size:37.40px;letter-spacing:1.480px;color:#000000;word-spacing:-2.200px;transform:scaleX(1.0000);transform-origin:0 0;">Same semi-major axis, different eccentricities</div>
<div class="t" style="left:178.66px;top:733.52px;font-size:23.90px;letter-spacing:0.000px;color:#4D4D4D;word-spacing:0.000px;transform:scaleX(1.1564);transform-origin:0 0;">-3e+11</div>
<div class="t" style="left:333.85px;top:733.52px;font-size:23.90px;letter-spacing:0.000px;color:#4D4D4D;word-spacing:0.000px;transform:scaleX(1.1564);transform-origin:0 0;">-2e+11</div>
<div class="t" style="left:488.14px;top:733.52px;font-size:23.90px;letter-spacing:0.000px;color:#4D4D4D;word-spacing:0.000px;transform:scaleX(1.1584);transform-origin:0 0;">-1e+11</div>
<div class="t" style="left:646.67px;top:733.52px;font-size:23.90px;letter-spacing:0.000px;color:#4D4D4D;word-spacing:0.000px;transform:scaleX(1.1730);transform-origin:0 0;">0e+00</div>
<div class="t" style="left:802.02px;top:733.52px;font-size:23.90px;letter-spacing:0.000px;color:#4D4D4D;word-spacing:0.000px;transform:scaleX(1.1678);transform-origin:0 0;">1e+11</div>
<div class="t" style="left:57.03px;top:302.77px;font-size:23.90px;letter-spacing:0.000px;color:#4D4D4D;word-spacing:0.000px;transform:scaleX(1.1678);transform-origin:0 0;">1e+11</div>
<div class="t" style="left:57.37px;top:458.17px;font-size:23.90px;letter-spacing:0.000px;color:#4D4D4D;word-spacing:0.000px;transform:scaleX(1.1665);transform-origin:0 0;">0e+00</div>
<div class="t" style="left:48.25px;top:612.07px;font-size:23.90px;letter-spacing:0.000px;color:#4D4D4D;word-spacing:0.000px;transform:scaleX(1.1607);transform-origin:0 0;">-1e+11</div>
<div class="t" style="left:543.90px;top:762.04px;font-size:29.60px;letter-spacing:0.000px;color:#000000;word-spacing:0.000px;transform:scaleX(1.0800);transform-origin:0 0;">x</div>
<div class="t" style="left:1058.59px;top:388.07px;font-size:23.90px;letter-spacing:0.215px;color:#000000;word-spacing:1.400px;transform:scaleX(1.1000);transform-origin:0 0;">e = 0.0 (circle)</div>
<div class="t" style="left:1058.68px;top:434.17px;font-size:23.90px;letter-spacing:0.121px;color:#000000;word-spacing:1.400px;transform:scaleX(1.1000);transform-origin:0 0;">e = 0.2 (Mercury-like)</div>
<div class="t" style="left:1058.62px;top:480.27px;font-size:23.90px;letter-spacing:0.257px;color:#000000;word-spacing:1.400px;transform:scaleX(1.1000);transform-origin:0 0;">e = 0.5 (comet-like)</div>
<div class="t" style="left:1058.68px;top:526.27px;font-size:23.90px;letter-spacing:0.132px;color:#000000;word-spacing:1.400px;transform:scaleX(1.1000);transform-origin:0 0;">e = 0.85 (Halley-like)</div>
<div class="t" style="left:10.64px;top:477.10px;font-size:29.20px;color:#000000;transform:rotate(-90deg) scaleX(1.0470);transform-origin:0 0;">y</div>
</body></html>
